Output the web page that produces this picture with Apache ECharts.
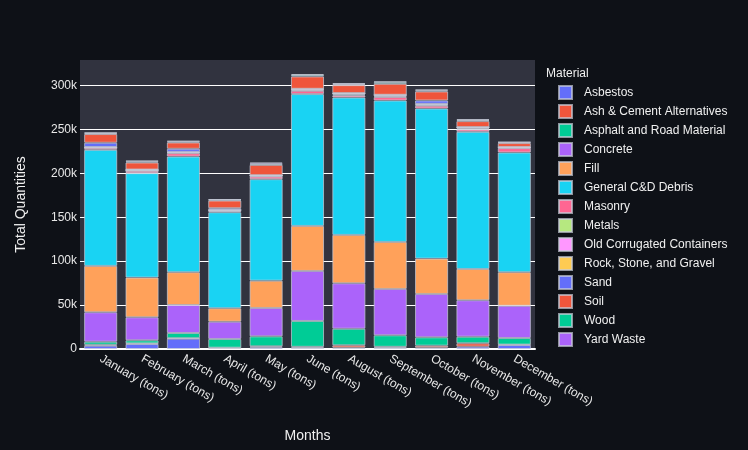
<!DOCTYPE html>
<html>
<head>
<meta charset="utf-8">
<script src="https://cdn.jsdelivr.net/npm/echarts@6/dist/echarts.min.js"></script>
<style>
  html, body { margin: 0; padding: 0; background: #0e1117; }
  #chart { width: 748px; height: 450px; }
</style>
</head>
<body>
<div id="chart"></div>
<script>
var months = ["January (tons)", "February (tons)", "March (tons)", "April (tons)", "May (tons)", "June (tons)",
  "August (tons)", "September (tons)", "October (tons)", "November (tons)", "December (tons)"];

// values in tons
var asbestos = [3800, 5700, 11800, 1100, 1900, 1500, 1500, 1500, 1500, 2700, 4600];
var ashCement = [1000, 700, 500, 400, 1100, 1000, 2700, 1000, 2300, 3800, 400];
var asphalt = [3500, 3500, 5900, 9900, 11400, 29400, 18900, 13100, 9500, 7500, 7500];
var concrete = [33500, 26200, 31900, 19700, 32300, 57000, 51700, 52800, 49400, 41500, 36700];
var fill = [52800, 45200, 37300, 15300, 31100, 51200, 55100, 53500, 40200, 35600, 38200];
var generalCD = [132100, 118900, 131700, 109300, 115500, 150100, 156400, 161000, 170900, 156100, 136300];
var masonry = [2300, 2600, 3800, 1500, 3000, 3800, 2300, 3900, 3100, 2700, 5000];
var metals = [300, 400, 600, 500, 600, 800, 1000, 1000, 900, 1000, 400];
var occ = [400, 500, 600, 500, 600, 900, 1200, 1200, 1000, 1200, 500];
var rock = [200, 300, 300, 200, 200, 300, 300, 200, 300, 300, 200];
var sand = [4900, 300, 3500, 1900, 200, 200, 200, 200, 3800, 200, 200];
var soil = [9900, 8000, 7200, 8700, 11700, 14100, 9100, 12500, 10300, 6800, 4400];
var wood = [1000, 1200, 1000, 800, 1400, 1500, 1200, 1800, 1200, 1200, 800];
var yardWaste = [800, 1000, 900, 700, 1300, 1200, 1100, 900, 1000, 1100, 600];

var materials = ["Asbestos", "Ash & Cement Alternatives", "Asphalt and Road Material", "Concrete", "Fill",
  "General C&D Debris", "Masonry", "Metals", "Old Corrugated Containers", "Rock, Stone, and Gravel",
  "Sand", "Soil", "Wood", "Yard Waste"];
var materialData = [asbestos, ashCement, asphalt, concrete, fill, generalCD, masonry, metals, occ, rock,
  sand, soil, wood, yardWaste];
var colors = ["#636efa", "#EF553B", "#00cc96", "#ab63fa", "#FFA15A", "#19d3f3", "#FF6692", "#B6E880",
  "#FF97FF", "#FECB52", "#636efa", "#EF553B", "#00cc96", "#ab63fa"];

var series = [];
for (var i = 0; i < materials.length; i++) {
  series.push({
    name: materials[i],
    type: "bar",
    stack: "total",
    barCategoryGap: "20%",
    data: materialData[i],
    itemStyle: { color: colors[i], borderColor: "rgba(200,204,216,0.7)", borderWidth: 1 }
  });
}

var myChart = echarts.init(document.getElementById("chart"));

var option = {
  backgroundColor: "#0e1117",
  color: colors,
  animation: false,
  textStyle: { fontFamily: "Liberation Sans, Arial, sans-serif" },
  title: {
    text: "Material",
    left: 541,
    top: 63,
    textStyle: { color: "#f0f0f0", fontSize: 12, fontWeight: "normal", fontFamily: "Liberation Sans, Arial, sans-serif" }
  },
  legend: {
    orient: "vertical",
    left: 553,
    top: 80,
    itemWidth: 13,
    itemHeight: 13,
    itemGap: 4,
    icon: "rect",
    data: materials,
    textStyle: { color: "#f0f0f0", fontSize: 12, padding: [0, 0, 0, 7] }
  },
  grid: {
    left: 80,
    right: 213,
    top: 60,
    bottom: 101,
    show: true,
    backgroundColor: "#31333f",
    borderWidth: 0
  },
  xAxis: {
    type: "category",
    data: months,
    name: "Months",
    nameLocation: "middle",
    nameGap: 80,
    nameTextStyle: { color: "#f0f0f0", fontSize: 14 },
    axisLine: { lineStyle: { color: "#ffffff", width: 2 } },
    axisTick: { show: false },
    axisLabel: { rotate: -30, color: "#e8e8e8", fontSize: 12, margin: 9, interval: 0 }
  },
  yAxis: {
    type: "value",
    min: 0,
    max: 329000,
    interval: 50000,
    name: "Total Quantities",
    nameLocation: "middle",
    nameGap: 52,
    nameTextStyle: { color: "#f0f0f0", fontSize: 14 },
    axisLine: { show: false },
    axisTick: { show: false },
    axisLabel: {
      color: "#e8e8e8",
      fontSize: 12,
      margin: 3,
      showMaxLabel: false,
      formatter: function (v) { return v == 0 ? "0" : (v / 1000) + "k"; }
    },
    splitLine: {
      lineStyle: {
        color: ["transparent", "#ffffff", "#ffffff", "#ffffff", "#ffffff", "#ffffff", "#ffffff", "transparent"],
        width: 1
      }
    }
  },
  series: series
};

myChart.setOption(option);
</script>
</body>
</html>
